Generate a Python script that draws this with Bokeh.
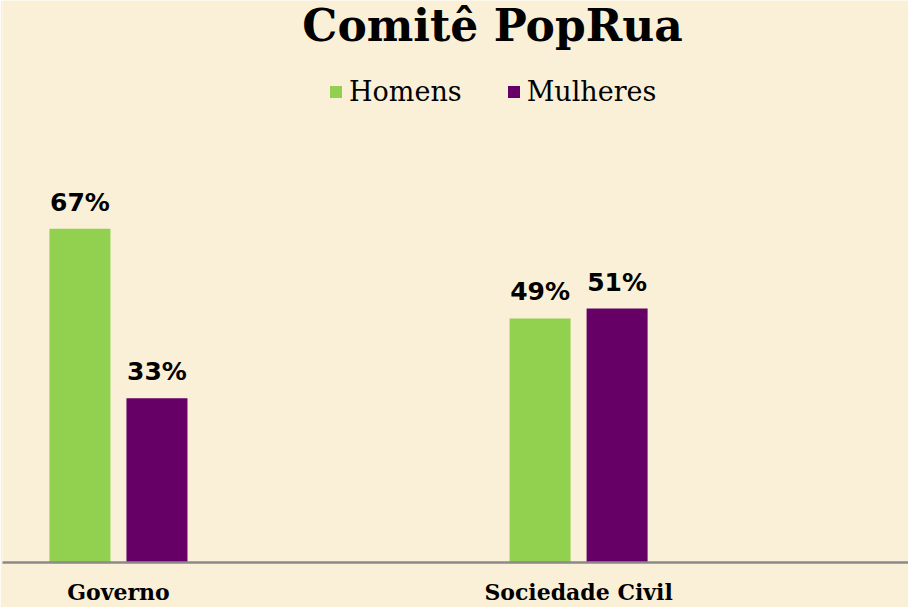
from bokeh.plotting import figure
from bokeh.models import ColumnDataSource, Range1d, FixedTicker, LabelSet, Label
from bokeh.core.properties import value
from bokeh.transform import dodge
from bokeh.embed import file_html
from bokeh.resources import INLINE

categories = ["Governo", "Sociedade Civil"]
homens = [67, 49]
mulheres = [33, 51]

BG = "#FAF0D8"
GREEN = "#92D050"
PURPLE = "#660066"

src = ColumnDataSource(dict(
    x=list(range(len(categories))),
    homens=homens,
    mulheres=mulheres,
    hl=[f"{v}%" for v in homens],
    ml=[f"{v}%" for v in mulheres],
))

p = figure(width=908, height=607, output_backend="svg", toolbar_location=None,
           x_range=Range1d(-0.252, 1.717), y_range=Range1d(0, 112.85),
           min_border_left=2, min_border_right=0, min_border_top=0, min_border_bottom=45)
p.background_fill_color = BG
p.border_fill_color = BG
p.outline_line_color = None
p.grid.visible = False
p.yaxis.visible = False

off = 0.0837
bw = 0.1326
p.vbar(x=dodge("x", -off, range=p.x_range), top="homens", width=bw, source=src,
       fill_color=GREEN, line_color=None, legend_label="Homens")
p.vbar(x=dodge("x", off, range=p.x_range), top="mulheres", width=bw, source=src,
       fill_color=PURPLE, line_color=None, legend_label="Mulheres")

for col, lab, d in (("homens", "hl", -off), ("mulheres", "ml", off)):
    ls = LabelSet(x=dodge("x", d, range=p.x_range), y=col, text=lab, source=src,
                  y_offset=18, text_align="center", text_baseline="alphabetic",
                  text_font=value("DejaVu Sans"), text_font_style="bold",
                  text_font_size=value("25px"), text_color="black")
    p.add_layout(ls)

p.add_layout(Label(x=0.813, y=107.8, text="Comitê PopRua", text_align="center",
                   text_baseline="alphabetic", text_font="DejaVu Serif",
                   text_font_style="bold", text_font_size="44px", text_color="black"))

xa = p.xaxis[0]
xa.ticker = FixedTicker(ticks=list(range(len(categories))))
xa.major_label_overrides = {i: c for i, c in enumerate(categories)}
xa.major_tick_line_color = None
xa.minor_tick_line_color = None
xa.major_tick_out = 0
xa.major_tick_in = 0
xa.axis_line_color = "#8a8a8a"
xa.axis_line_width = 2.5
xa.major_label_standoff = 16
xa.major_label_text_font = "DejaVu Serif"
xa.major_label_text_font_style = "bold"
xa.major_label_text_font_size = "22px"
xa.major_label_text_color = "black"

lg = p.legend[0]
lg.orientation = "horizontal"
lg.location = (326, 455)
lg.background_fill_alpha = 0
lg.border_line_color = None
lg.padding = 0
lg.margin = 0
lg.spacing = 44
lg.glyph_width = 15
lg.glyph_height = 15
lg.label_standoff = 6
lg.label_text_font = "DejaVu Serif"
lg.label_text_font_size = "27px"
lg.label_text_color = "black"

open("out.html", "w").write(file_html(p, INLINE))
